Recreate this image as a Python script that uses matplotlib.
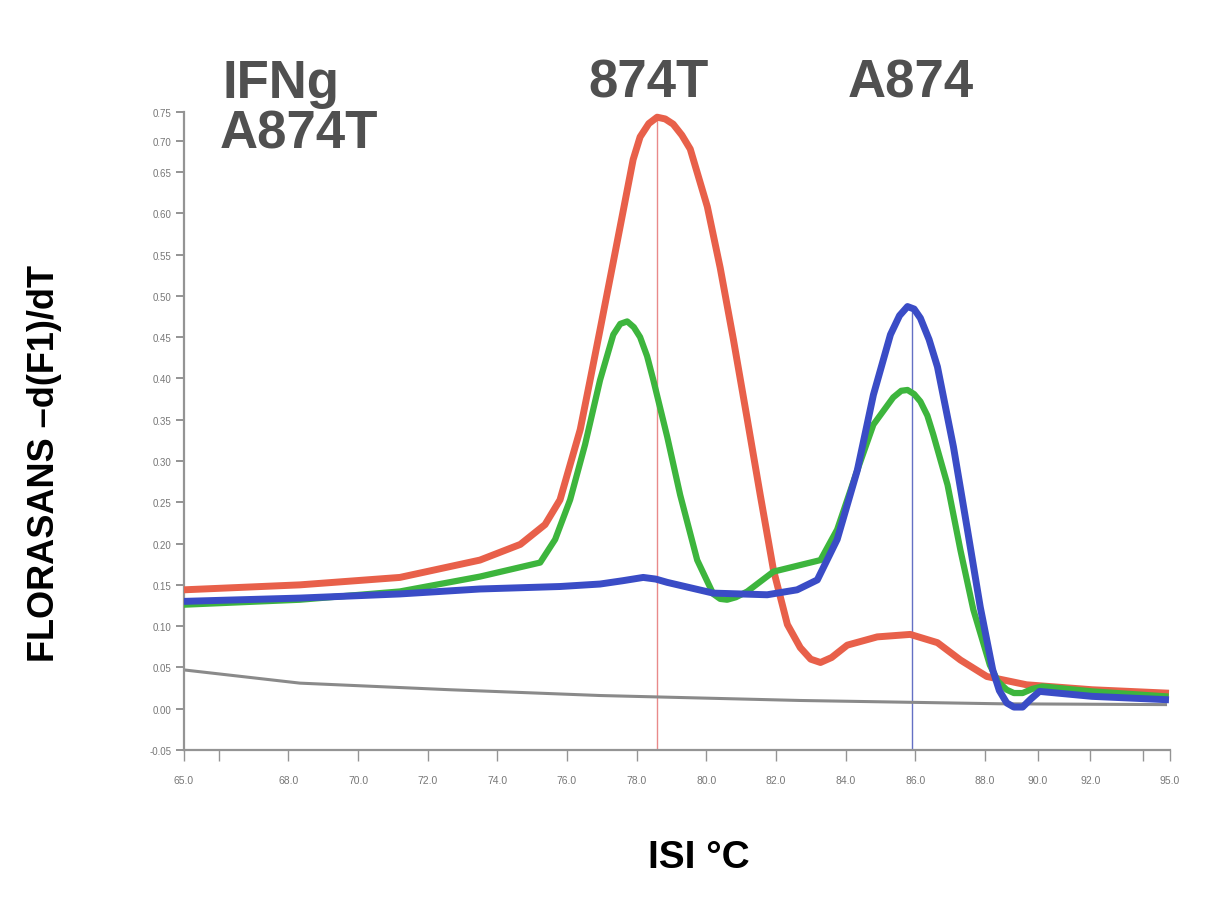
import numpy as np
import matplotlib
matplotlib.use('Agg')
import matplotlib.pyplot as plt

plt.rcParams['font.family'] = ['Liberation Sans', 'DejaVu Sans']

# melting peaks, temperature (C) vs -d(F1)/dT
red_t = [65.0, 68.33, 71.2, 73.5, 74.66, 75.37, 75.8, 76.38, 76.65, 76.95, 77.33, 77.73,
         77.9, 78.1, 78.35, 78.59, 78.82, 79.05, 79.3, 79.54, 80.03, 80.4, 80.78, 81.18,
         81.55, 81.93, 82.33, 82.7, 83.0, 83.28, 83.6, 84.05, 84.91, 85.86, 86.64, 87.3,
         88.08, 89.58, 92.06, 94.84]
red_v = [0.144, 0.150, 0.159, 0.180, 0.199, 0.223, 0.253, 0.338, 0.395, 0.459, 0.541, 0.628,
         0.670, 0.707, 0.730, 0.741, 0.738, 0.729, 0.710, 0.687, 0.608, 0.534, 0.447, 0.350,
         0.259, 0.168, 0.102, 0.074, 0.060, 0.056, 0.062, 0.077, 0.087, 0.090, 0.080, 0.059,
         0.039, 0.029, 0.023, 0.019]

green_t = [65.0, 68.33, 71.2, 73.5, 75.23, 75.66, 76.09, 76.52, 76.95, 77.33, 77.53, 77.73,
           77.92, 78.1, 78.3, 78.48, 78.88, 79.25, 79.74, 80.2, 80.4, 80.6, 80.85, 81.18,
           81.93, 82.7, 83.28, 83.76, 84.34, 84.8, 85.37, 85.6, 85.78, 85.97, 86.15, 86.35,
           86.52, 86.93, 87.3, 87.67, 88.19, 88.5, 88.83, 89.1, 89.43, 89.8, 90.18, 92.06,
           94.84]
green_v = [0.126, 0.132, 0.142, 0.160, 0.177, 0.205, 0.253, 0.320, 0.398, 0.453, 0.466, 0.469,
           0.462, 0.450, 0.427, 0.398, 0.329, 0.259, 0.180, 0.139, 0.133, 0.132, 0.135, 0.142,
           0.166, 0.174, 0.180, 0.217, 0.289, 0.344, 0.377, 0.385, 0.386, 0.381, 0.372, 0.355,
           0.332, 0.271, 0.192, 0.120, 0.053, 0.033, 0.023, 0.019, 0.019, 0.024, 0.027, 0.021,
           0.015]

blue_t = [65.0, 68.33, 71.2, 73.5, 75.8, 76.95, 77.6, 78.19, 78.55, 78.88, 80.2, 81.75,
          82.61, 83.19, 83.76, 84.34, 84.8, 85.29, 85.55, 85.78, 85.97, 86.15, 86.4, 86.64,
          87.1, 87.5, 87.87, 88.3, 88.55, 88.83, 89.1, 89.43, 89.75, 90.07, 92.06, 94.84]
blue_v = [0.130, 0.134, 0.139, 0.145, 0.148, 0.151, 0.155, 0.159, 0.157, 0.153, 0.140, 0.138,
          0.144, 0.156, 0.205, 0.289, 0.380, 0.453, 0.476, 0.487, 0.484, 0.473, 0.447, 0.414,
          0.317, 0.217, 0.123, 0.047, 0.022, 0.007, 0.002, 0.002, 0.012, 0.021, 0.015, 0.011]

gray_t = [65.0, 68.33, 72.64, 76.95, 82.7, 88.56, 94.84]
gray_v = [0.047, 0.031, 0.023, 0.016, 0.010, 0.006, 0.005]

peak_874T = (78.59, 0.741)
peak_A874 = (85.9, 0.487)

x_ticks = [65, 66, 68, 70, 72, 74, 76, 78, 80, 82, 84, 86, 88, 90, 92, 94, 95]
x_labels = ['65.0', '', '68.0', '70.0', '72.0', '74.0', '76.0', '78.0', '80.0', '82.0',
            '84.0', '86.0', '88.0', '90.0', '92.0', '', '95.0']
y_ticks = [round(-0.05 + 0.05 * i, 2) for i in range(17)]

# the instrument axis is not uniform: linear pieces on each axis
x_knots, x_frac = [65.0, 88.0, 95.0], [0.0, 0.8124, 1.0]
y_knots, y_frac = [-0.05, 0.65, 0.70, 0.75], [0.0, 0.906, 0.9545, 1.0]


def piecewise(v, xp, fp):
    v = np.asarray(v, dtype=float)
    out = np.interp(v, xp, fp)
    lo_slope = (fp[1] - fp[0]) / (xp[1] - xp[0])
    hi_slope = (fp[-1] - fp[-2]) / (xp[-1] - xp[-2])
    out = np.where(v < xp[0], fp[0] + (v - xp[0]) * lo_slope, out)
    out = np.where(v > xp[-1], fp[-1] + (v - xp[-1]) * hi_slope, out)
    return out


fig = plt.figure(figsize=(12.2, 9.03), dpi=100)
ax = fig.add_axes([0.1508, 0.1683, 0.808, 0.7066])

ax.set_xscale('function', functions=(lambda v: piecewise(v, x_knots, x_frac),
                                     lambda f: piecewise(f, x_frac, x_knots)))
ax.set_yscale('function', functions=(lambda v: piecewise(v, y_knots, y_frac),
                                     lambda f: piecewise(f, y_frac, y_knots)))

ax.plot([peak_874T[0]] * 2, [-0.05, peak_874T[1]], color='#e98a8a', lw=1.0, zorder=1)
ax.plot([peak_A874[0]] * 2, [-0.05, peak_A874[1]], color='#6470c4', lw=1.0, zorder=1)

ax.plot(gray_t, gray_v, color='#8a8a8a', lw=2.2, zorder=2)
ax.plot(red_t, red_v, color='#e8604a', lw=5, solid_joinstyle='round', zorder=3)
ax.plot(green_t, green_v, color='#3db53d', lw=4.5, solid_joinstyle='round', zorder=4)
ax.plot(blue_t, blue_v, color='#3a4cc6', lw=5, solid_joinstyle='round', zorder=5)

ax.set_xlim(65, 95)
ax.set_ylim(-0.05, 0.75)
ax.set_xticks(x_ticks)
ax.set_xticklabels(x_labels)
ax.set_yticks(y_ticks)
ax.set_yticklabels(['%.2f' % t for t in y_ticks])
ax.minorticks_off()

for s in ['top', 'right']:
    ax.spines[s].set_visible(False)
for s in ['left', 'bottom']:
    ax.spines[s].set_color('#949494')
    ax.spines[s].set_linewidth(1.6)
ax.tick_params(axis='y', direction='out', length=6, width=1.4, color='#949494',
               labelsize=7, labelcolor='#777777', pad=3)
ax.tick_params(axis='x', direction='out', length=8, width=1.0, color='#949494',
               labelsize=7.5, labelcolor='#777777', pad=10)

ax.set_ylabel('FLORASANS \u2013d(F1)/dT', fontsize=26, fontweight='bold', color='black')
ax.yaxis.set_label_coords(-0.124, 0.45)
ax.set_xlabel('ISI \u00b0C', fontsize=28, fontweight='bold', color='black')
ax.xaxis.set_label_coords(0.522, -0.14)

txt = dict(fontsize=38, fontweight='bold', color='#505050', va='baseline')
fig.text(0.182, 0.892, 'IFNg', **txt)
fig.text(0.180, 0.836, 'A874T', **txt)
fig.text(0.482, 0.892, '874T', **txt)
fig.text(0.695, 0.892, 'A874', **txt)

plt.savefig('out.png', dpi=100)
